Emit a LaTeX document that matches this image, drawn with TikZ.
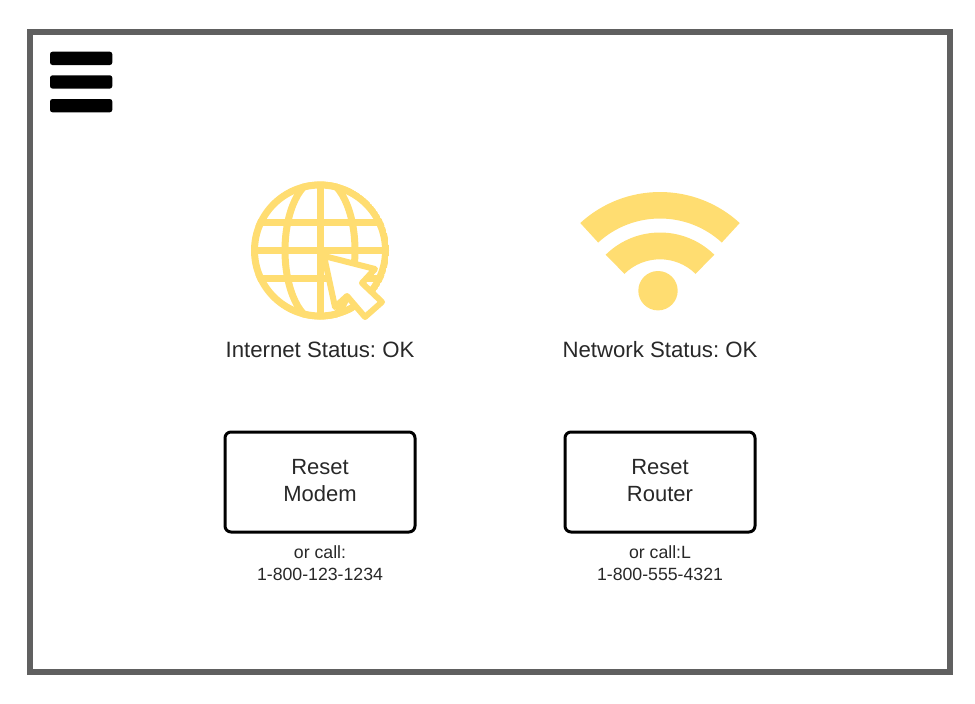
\documentclass[tikz,border=0pt]{standalone}
\usepackage{fontspec}
\setmainfont{Liberation Sans}
\usepackage{xcolor}
\definecolor{iconyellow}{HTML}{FFDD71}
\definecolor{framegray}{HTML}{606060}
\definecolor{textgray}{HTML}{282828}
\frenchspacing
\tikzset{
  statuslabel/.style={text=textgray, font=\fontsize{22.2}{27}\selectfont},
  resetbutton/.style={draw=black, line width=3pt, rounded corners=6pt, minimum width=190pt, minimum height=100pt, align=center, text=textgray, font=\fontsize{22}{27}\selectfont},
  calllabel/.style={align=center, text=textgray, font=\fontsize{17.7}{22}\selectfont},
  menubar/.style={fill=black, rounded corners=2.5pt},
  globeline/.style={draw=iconyellow, line width=7pt}
}
\newcommand{\lowerpad}{\rule[-4pt]{0pt}{4pt}}
\begin{document}
\begin{tikzpicture}[x=1pt,y=-1pt]
\useasboundingbox (0,0) rectangle (975,704);
\draw[framegray, line width=6pt] (30,32) rectangle (950,672);
% menu
\foreach \y in {51.7,75.3,99}
  \fill[menubar] (50,\y) rectangle (112.3,\y+13.3);
% globe
\begin{scope}
\clip (320,250.5) circle[radius=69];
\draw[globeline] (320,250.5) circle[radius=65.5];
\draw[globeline] (320,250.5) ellipse[x radius=35, y radius=72];
\draw[globeline] (320,180) -- (320,320);
\foreach \y in {222.7,250.5,278}
  \draw[globeline] (250,\y) -- (390,\y);
\end{scope}
\draw[iconyellow, fill=white, line width=6pt, line join=round] (324,256) -- (375,269) -- (362,283) -- (382,302) -- (365,317) -- (347,296) -- (335,307) -- cycle;
% wifi
\foreach \ro/\ri/\ang in {118/91.5/47.5,77.5/50.7/45.5}
  \fill[iconyellow] ([shift={(660,310)}]180+\ang:\ro) arc[start angle=180+\ang, end angle=360-\ang, radius=\ro] -- ([shift={(660,310)}]360-\ang:\ri) arc[start angle=360-\ang, end angle=180+\ang, radius=\ri] -- cycle;
\fill[iconyellow] (658,290.7) circle[radius=19.7];
% labels
\node[statuslabel] (internet) at (320,350) {Internet Status: OK};
\node[statuslabel] (network) at (660,350) {Network Status: OK};
\node[resetbutton] (modem) at (320,482) {Reset\\Modem\lowerpad};
\node[resetbutton] (router) at (660,482) {Reset\\Router\lowerpad};
\node[calllabel] (callmodem) at (320,563) {or call:\\1-800-123-1234};
\node[calllabel] (callrouter) at (660,563) {or call:L\\1-800-555-4321};
\end{tikzpicture}
\end{document}
